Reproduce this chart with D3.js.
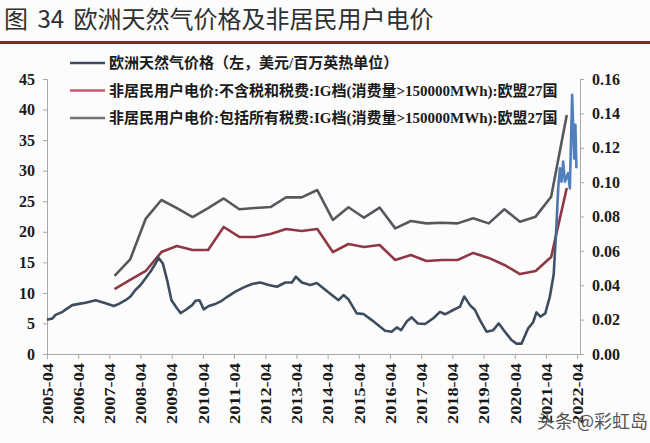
<!DOCTYPE html>
<html><head><meta charset="utf-8">
<script src="https://cdn.jsdelivr.net/npm/d3@7"></script>
<style>html,body{margin:0;padding:0;background:#fcfcfc;} svg{display:block}</style>
</head><body>
<svg id="c" width="650" height="443"></svg>
<script>
const titleText = "图 34 欧洲天然气价格及非居民用户电价";
const seriesNames = [
  "欧洲天然气价格（左，美元/百万英热单位）",
  "非居民用户电价:不含税和税费:IG档(消费量>150000MWh):欧盟27国",
  "非居民用户电价:包括所有税费:IG档(消费量>150000MWh):欧盟27国"
];
const xTickLabels = ["2005-04","2006-04","2007-04","2008-04","2009-04","2010-04","2011-04","2012-04","2013-04","2014-04","2015-04","2016-04","2017-04","2018-04","2019-04","2020-04","2021-04","2022-04"];
const leftTicks = [0,5,10,15,20,25,30,35,40,45];
const rightTicks = [0,0.02,0.04,0.06,0.08,0.10,0.12,0.14,0.16];
const watermark = "头条 @彩虹岛";

// European natural gas price (left axis, USD/MMBtu)
const gasDates = ["2005-04-01","2005-06-01","2005-07-10","2005-10-01","2005-11-08","2006-01-22","2006-04-09","2006-06-28","2006-10-23","2007-01-28","2007-05-24","2007-07-22","2007-10-08","2007-12-05","2008-02-02","2008-04-01","2008-05-30","2008-07-27","2008-09-24","2008-10-26","2008-12-18","2009-02-06","2009-03-29","2009-05-22","2009-07-13","2009-09-10","2009-11-26","2010-01-04","2010-02-20","2010-04-11","2010-06-09","2010-08-26","2010-10-27","2011-01-16","2011-04-16","2011-07-23","2011-10-28","2012-02-02","2012-05-10","2012-08-15","2012-11-22","2013-02-06","2013-03-25","2013-06-03","2013-09-10","2013-11-26","2014-03-04","2014-05-20","2014-08-07","2014-10-04","2014-12-01","2015-03-08","2015-05-26","2015-08-31","2015-12-07","2016-02-03","2016-04-20","2016-06-18","2016-08-09","2016-10-13","2016-12-11","2017-02-19","2017-05-16","2017-08-21","2017-11-07","2018-01-05","2018-04-11","2018-06-29","2018-08-18","2018-10-24","2018-12-22","2019-02-18","2019-05-06","2019-07-23","2019-09-27","2019-12-07","2020-02-22","2020-04-21","2020-06-19","2020-09-05","2020-11-02","2020-12-11","2021-01-26","2021-03-24","2021-05-17","2021-07-01","2021-08-03","2021-08-23","2021-09-12","2021-09-30","2021-10-20","2021-11-09","2021-12-17","2022-01-06","2022-02-02","2022-02-26","2022-03-12","2022-03-24"];
const gasValues = [5.6,5.8,6.4,6.9,7.3,8.0,8.2,8.4,8.8,8.4,7.85,8.2,8.8,9.4,10.5,11.3,12.4,13.5,14.8,15.8,14.8,12.1,8.8,7.7,6.7,7.2,8.0,8.7,8.8,7.3,7.85,8.2,8.6,9.4,10.2,10.9,11.45,11.7,11.3,11.0,11.7,11.7,12.65,11.7,11.3,11.6,10.5,9.65,8.8,9.65,8.95,6.65,6.55,5.55,4.45,3.8,3.65,4.35,3.9,5.3,6.0,5.0,4.9,5.85,6.9,6.5,7.2,7.75,9.4,8.0,7.2,5.55,3.65,3.9,5.0,3.65,2.3,1.7,1.7,4.2,5.2,6.8,6.1,6.65,9.4,13.0,21.1,27.1,30.4,28.2,31.5,28.2,29.6,27.1,42.4,32.0,37.5,30.4];

// Non-household electricity prices, EU27 (right axis)
const elecDates = ["2007-06","2007-12","2008-06","2008-12","2009-06","2009-12","2010-06","2010-12","2011-06","2011-12","2012-06","2012-12","2013-06","2013-12","2014-06","2014-12","2015-06","2015-12","2016-06","2016-12","2017-06","2017-12","2018-06","2018-12","2019-06","2019-12","2020-06","2020-12","2021-06","2021-12"];
const elecExTax = [0.0378,0.0431,0.0483,0.0593,0.0628,0.0605,0.0605,0.0739,0.0681,0.0681,0.0698,0.0727,0.0716,0.0727,0.0593,0.0640,0.0623,0.0634,0.0547,0.0576,0.0541,0.0547,0.0547,0.0588,0.0559,0.0518,0.0465,0.0483,0.0564,0.0966];
const elecInclTax = [0.0454,0.0550,0.0788,0.0896,0.0849,0.0797,0.0849,0.0905,0.0842,0.0849,0.0855,0.0912,0.0911,0.0954,0.0780,0.0854,0.0793,0.0852,0.0731,0.0774,0.0760,0.0764,0.0760,0.0790,0.0760,0.0842,0.0770,0.0799,0.0915,0.1390];

const colors = {gas:"#3d4c5e", gasHot:"#4f7fbd", ex:"#8f3844", inc:"#55585d", axis:"#a8a8a8", text:"#1a1a1a"};

const svg = d3.select("#c");
const pDay = d3.timeParse("%Y-%m-%d"), pMon = d3.timeParse("%Y-%m");

const x = d3.scaleTime().domain([pMon("2005-04"), pDay("2022-05-05")]).range([47, 580]);
const yL = d3.scaleLinear().domain([0,45]).range([354,79]);
const yR = d3.scaleLinear().domain([0,0.16]).range([354,79]);

// background
svg.append("rect").attr("width",650).attr("height",443).attr("fill","#fcfcfc");

// title
svg.append("text").attr("x",4).attr("y",28).attr("xml:space","preserve")
  .style("font-family","'Noto Sans CJK SC'").style("font-size","24px").style("word-spacing","4px")
  .attr("fill","#2f2f2f").text(titleText);
svg.append("line").attr("x1",0).attr("x2",650).attr("y1",42.5).attr("y2",42.5)
  .attr("stroke","#7d2a2a").attr("stroke-width",3);

// axes
const fontAxis = "'Liberation Serif','Times New Roman',serif";
const gL = svg.append("g").attr("transform","translate(47,0)")
  .call(d3.axisLeft(yL).tickValues(leftTicks).tickSize(4).tickPadding(8).tickFormat(d3.format("d")));
const gR = svg.append("g").attr("transform","translate(580,0)")
  .call(d3.axisRight(yR).tickValues(rightTicks).tickSize(4).tickPadding(8).tickFormat(d3.format(".2f")));
const tickDates = xTickLabels.map(pMon);
const gX = svg.append("g").attr("transform","translate(0,354)")
  .call(d3.axisBottom(x).tickValues(tickDates).tickSize(5).tickSizeOuter(0).tickFormat((d,i)=>xTickLabels[i]));
[gL,gR,gX].forEach(g=>{
  g.select(".domain").attr("stroke",colors.axis);
  g.selectAll(".tick line").attr("stroke",colors.axis);
  g.selectAll("text").attr("fill",colors.text).style("font-family",fontAxis)
    .style("font-weight","bold").style("font-size","16px");
});
gX.selectAll("text").style("font-size","15px")
  .attr("transform","rotate(-90)").attr("text-anchor","end")
  .attr("x",-9).attr("y",0).attr("dy","0.35em")
  .attr("textLength",61).attr("lengthAdjust","spacingAndGlyphs");

// gradient for gas line (spike drawn in blue)
const defs = svg.append("defs");
const grad = defs.append("linearGradient").attr("id","gasGrad").attr("gradientUnits","userSpaceOnUse")
  .attr("x1",x(pDay("2021-07-01"))).attr("x2",x(pDay("2021-08-25"))).attr("y1",0).attr("y2",0);
grad.append("stop").attr("offset",0).attr("stop-color",colors.gas);
grad.append("stop").attr("offset",1).attr("stop-color",colors.gasHot);

// lines
const gasData = gasDates.map((d,i)=>({t:pDay(d), v:gasValues[i]}));
const exData = elecDates.map((d,i)=>({t:pMon(d), v:elecExTax[i]}));
const incData = elecDates.map((d,i)=>({t:pMon(d), v:elecInclTax[i]}));

const lineL = d3.line().x(d=>x(d.t)).y(d=>yL(d.v));
const lineR = d3.line().x(d=>x(d.t)).y(d=>yR(d.v));

svg.append("path").datum(incData).attr("d",lineR).attr("fill","none")
  .attr("stroke",colors.inc).attr("stroke-width",2.6).attr("stroke-linejoin","round");
svg.append("path").datum(exData).attr("d",lineR).attr("fill","none")
  .attr("stroke",colors.ex).attr("stroke-width",2.6).attr("stroke-linejoin","round");
svg.append("path").datum(gasData).attr("d",lineL).attr("fill","none")
  .attr("stroke","url(#gasGrad)").attr("stroke-width",2.6).attr("stroke-linejoin","round");

// legend
const legColors = [colors.gas, "#c45a6c", "#6f7276"];
const leg = svg.append("g");
seriesNames.forEach((name,i)=>{
  const cy = 63 + i*27.5;
  leg.append("line").attr("x1",70).attr("x2",105).attr("y1",cy).attr("y2",cy)
    .attr("stroke",legColors[i]).attr("stroke-width",2.5);
  leg.append("text").attr("x",109).attr("y",cy+5)
    .style("font-family","'Liberation Serif','Noto Sans CJK SC',serif").style("font-weight","bold")
    .style("font-size","15px").attr("fill","#1a1a1a").text(name);
});

// watermark
svg.append("text").attr("x",537).attr("y",428)
  .style("font-family","'Noto Sans CJK SC'").style("font-size","18px").attr("fill","#555")
  .text(watermark);
</script>
</body></html>
